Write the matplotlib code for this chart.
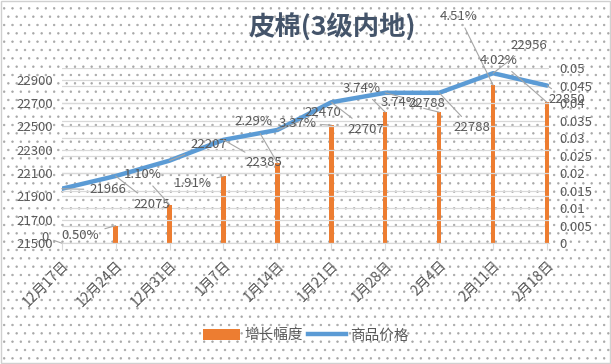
import matplotlib
matplotlib.use('Agg')
import matplotlib.pyplot as plt
from matplotlib.patches import Rectangle, Patch
from matplotlib.lines import Line2D
import numpy as np

plt.rcParams['font.family'] = ['Noto Sans CJK SC', 'DejaVu Sans']
plt.rcParams['axes.unicode_minus'] = False
plt.rcParams['hatch.linewidth'] = 0.5

# 数据
dates = ['12月17日', '12月24日', '12月31日', '1月7日', '1月14日',
         '1月21日', '1月28日', '2月4日', '2月11日', '2月18日']
price = [21966, 22075, 22207, 22385, 22470, 22707, 22788, 22788, 22956, 22850]
growth = [0, 0.0050, 0.0110, 0.0191, 0.0229, 0.0337, 0.0374, 0.0374, 0.0451, 0.0402]

# 标签偏移（像素，x向右，y向下）
price_off = [(46, 1), (36, 28), (39, -16), (40, 23), (45, -17),
             (35, 27), (42, 11), (33, 35), (36, -28), (20, 14)]
growth_off = [(-17, -6), (-35, 10), (-27, -30), (-31, 7), (-24, -41),
              (-34, -2), (-24, -24), (-40, -10), (-34, -69), (-48, -42)]

c_bar = '#ED7D31'
c_line = '#5B9BD5'
c_text = '#595959'
c_grid = '#D9D9D9'

fig = plt.figure(figsize=(6.11, 3.64), dpi=100)
fig.patch.set_facecolor('white')
# 点状底纹背景
bg = Rectangle((0.002, 0.003), 0.996, 0.994, transform=fig.transFigure,
               facecolor='white', edgecolor='#A8A8A8', hatch='..',
               linewidth=0, zorder=-10)
fig.patches.append(bg)
frame = Rectangle((0.002, 0.003), 0.996, 0.994, transform=fig.transFigure,
                  facecolor='none', edgecolor='#D0D0D0', linewidth=1, zorder=-9)
fig.patches.append(frame)

ax_bar = fig.add_axes([0.101, 0.332, 0.797, 0.481])
ax_line = ax_bar.twinx()
ax_bar.patch.set_alpha(0)
ax_line.patch.set_alpha(0)

x = np.arange(len(dates))

# 柱：增长幅度（右轴）
ax_bar.bar(x, growth, width=0.08, color=c_bar, zorder=3)
ax_bar.set_ylim(0, 0.05)
ax_bar.set_yticks(np.arange(0, 0.0501, 0.005))
ax_bar.set_yticklabels(['0', '0.005', '0.01', '0.015', '0.02', '0.025',
                        '0.03', '0.035', '0.04', '0.045', '0.05'])
ax_bar.yaxis.tick_right()
ax_bar.grid(True, axis='y', color=c_grid, linewidth=0.9, zorder=0)
ax_bar.set_axisbelow(True)

# 折线：商品价格（左轴）
ax_line.plot(x, price, color=c_line, linewidth=3.2, solid_capstyle='round', zorder=4)
ax_line.set_ylim(21500, 23000)
ax_line.set_yticks(np.arange(21500, 22901, 200))
ax_line.yaxis.tick_left()
ax_line.grid(True, axis='y', color=c_grid, linewidth=0.9, zorder=0)

ax_bar.set_xlim(0, len(dates) - 1 + 0.03)
ax_bar.set_xticks(x)
ax_bar.set_xticklabels(dates, rotation=45, ha='right', va='top', rotation_mode='anchor')

for a in (ax_bar, ax_line):
    for s in a.spines.values():
        s.set_visible(False)
    a.tick_params(axis='both', length=0, labelsize=9.5, colors=c_text)
ax_bar.spines['bottom'].set_visible(True)
ax_bar.spines['bottom'].set_color(c_grid)
ax_bar.tick_params(axis='x', length=5, color=c_grid, pad=6, labelsize=10)
ax_bar.tick_params(axis='y', pad=8)
ax_line.tick_params(axis='y', pad=6)

# 数据标签
arrow = dict(arrowstyle='-', color='#A6A6A6', linewidth=0.8, shrinkB=0)
for i, v in enumerate(price):
    dx, dy = price_off[i]
    ax_line.annotate(f'{v}', (x[i], v), xytext=(dx, -dy), textcoords='offset pixels',
                     ha='center', va='center', fontsize=9.5, color=c_text,
                     arrowprops=arrow, zorder=6)
for i, g in enumerate(growth):
    dx, dy = growth_off[i]
    lab = '0' if g == 0 else f'{g * 100:.2f}%'
    ax_line.annotate(lab, (x[i], ax_line.get_ylim()[0] + g / 0.05 * 1500),
                     xytext=(dx, -dy), textcoords='offset pixels',
                     ha='center', va='center', fontsize=9.5, color=c_text,
                     arrowprops=arrow, zorder=6)

# 标题
fig.text(0.543, 0.925, '皮棉(3级内地)', ha='center', va='center',
         fontsize=19, fontweight='bold', color='#44546A')

# 图例
handles = [Patch(facecolor=c_bar, edgecolor='none'),
           Line2D([0], [0], color=c_line, linewidth=3.2)]
fig.legend(handles, ['增长幅度', '商品价格'], loc='center', bbox_to_anchor=(0.5, 0.078),
           ncol=2, frameon=False, fontsize=10.5, handlelength=2.6, handleheight=0.8,
           columnspacing=0.3, handletextpad=0.3, labelcolor=c_text)

plt.savefig('out.png', dpi=100, facecolor='white')
plt.close()
